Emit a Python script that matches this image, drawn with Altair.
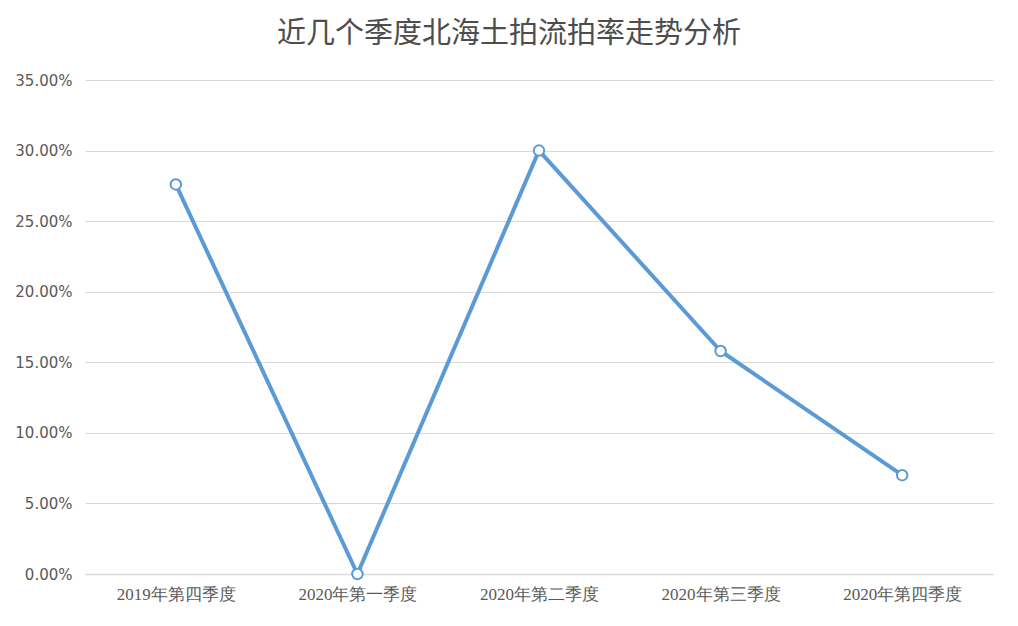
import altair as alt
import pandas as pd

quarters = ["2019年第四季度", "2020年第一季度", "2020年第二季度", "2020年第三季度", "2020年第四季度"]
rates = [0.276, 0.0, 0.300, 0.158, 0.070]

df = pd.DataFrame({"quarter": quarters, "rate": rates})

x = alt.X("quarter:N", sort=quarters, title=None,
          scale=alt.Scale(paddingInner=0, paddingOuter=0.5),
          axis=alt.Axis(labelAngle=0, labelFont="Liberation Serif", labelFontSize=17,
                        labelColor="#595959", ticks=False, domainColor="#d9d9d9",
                        domainWidth=1.5, labelPadding=12, grid=False))
y = alt.Y("rate:Q", title=None,
          scale=alt.Scale(domain=[0, 0.35], nice=False),
          axis=alt.Axis(format=".2%", values=[0, 0.05, 0.10, 0.15, 0.20, 0.25, 0.30, 0.35],
                        labelFont="DejaVu Sans", labelFontSize=15, labelColor="#595959",
                        ticks=False, domain=False, gridColor="#d9d9d9", gridWidth=1,
                        labelPadding=13))

base = alt.Chart(df).encode(x=x, y=y)
line = base.mark_line(color="#5b9bd5", strokeWidth=4, strokeCap="round", strokeJoin="round")
pts = base.mark_point(filled=True, fill="white", stroke="#5b9bd5", strokeWidth=2,
                      size=110, opacity=1)

chart = (line + pts).properties(
    width=908, height=494,
    background="white",
    autosize=alt.AutoSizeParams(type="none"),
    padding={"left": 77, "top": 72, "right": 17, "bottom": 44},
    title=alt.TitleParams("近几个季度北海土拍流拍率走势分析", font="Noto Sans CJK SC",
                          fontSize=29, fontWeight="normal", color="#4d4d4d",
                          anchor="middle", offset=24, dx=-30),
).configure_view(strokeWidth=0, stroke="transparent")

chart.save("out.html", embed_options={"renderer": "svg", "actions": False})
